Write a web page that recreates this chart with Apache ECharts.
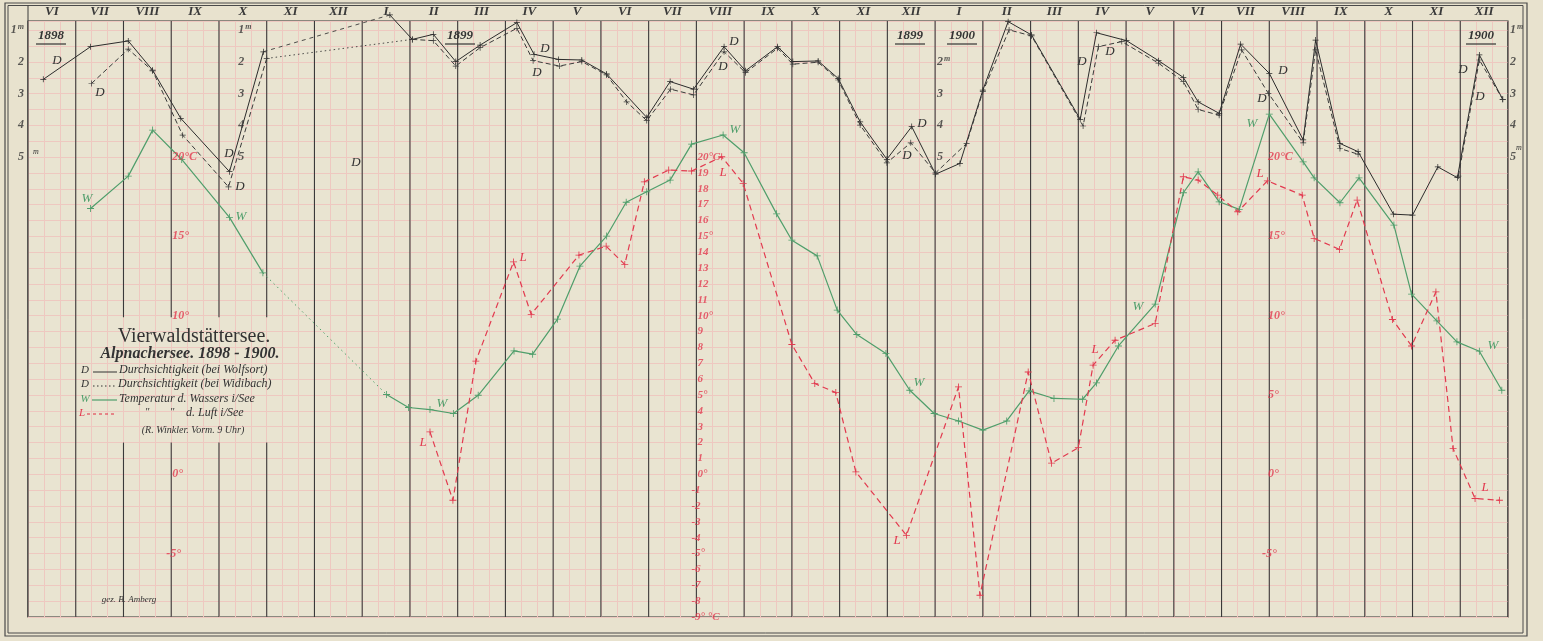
<!DOCTYPE html>
<html><head><meta charset="utf-8">
<script src="https://cdn.jsdelivr.net/npm/echarts@6/dist/echarts.min.js"></script>
<style>html,body{margin:0;padding:0;background:#e8e2ce;}#c{width:1543px;height:641px;}</style>
</head><body><div id="c"></div>
<script>
// ---------- DATA (x = months since 1 June 1898) ----------
const monthLabels = ['VI','VII','VIII','IX','X','XI','XII','I','II','III','IV','V','VI','VII','VIII','IX','X','XI','XII','I','II','III','IV','V','VI','VII','VIII','IX','X','XI','XII'];
// Durchsichtigkeit bei Wolfsort (m)
const dWolfsort1898 = [[0.32,2.55],[1.31,1.52],[2.10,1.34],[2.61,2.26],[3.20,3.78],[4.22,5.46],[4.93,1.68]];
const dWolfsort1899 = [[7.58,0.52],[8.05,1.29],[8.49,1.13],[8.96,1.99],[9.47,1.47],[10.24,0.76],[10.60,1.76],[11.11,1.92],[11.60,1.94],[12.12,2.38],[12.96,3.75],[13.45,2.62],[13.94,2.86],[14.58,1.52],[15.03,2.28],[15.70,1.52],[16.02,1.99],[16.55,1.97],[16.97,2.52],[17.43,3.89],[17.99,5.07],[18.51,4.04],[19.01,5.54],[19.52,5.20],[20.00,2.89],[20.53,0.73],[21.02,1.15],[22.04,3.81],[22.38,1.08],[23.01,1.33],[23.68,1.96],[24.20,2.49],[24.51,3.26],[24.95,3.62],[25.40,1.44],[26.00,2.36],[26.71,4.46],[26.97,1.31],[27.48,4.57],[27.86,4.83],[28.60,6.80],[29.00,6.83],[29.53,5.31],[29.94,5.65],[30.40,1.78],[30.89,3.18]];
// Durchsichtigkeit bei Widibach (m)
const dWidibach1898 = [[1.33,2.68],[2.10,1.60],[2.61,2.28],[3.24,4.31],[4.20,5.94],[5.00,1.89]];
const dWidibach1899 = [[8.05,1.29],[8.49,1.33],[8.96,2.13],[9.47,1.55],[10.24,0.94],[10.58,1.96],[11.13,2.13],[11.60,1.99],[12.12,2.41],[12.54,3.26],[12.96,3.85],[13.46,2.86],[13.94,3.04],[14.58,1.68],[15.03,2.34],[15.70,1.57],[16.02,2.07],[16.55,2.01],[16.97,2.57],[17.43,3.99],[17.99,5.18],[18.49,4.55],[19.01,5.50],[19.66,4.57],[20.00,2.94],[20.55,0.99],[21.02,1.18],[22.10,4.02],[22.42,1.52],[22.91,1.36],[23.68,2.04],[24.20,2.62],[24.51,3.50],[24.95,3.68],[25.42,1.62],[25.98,2.99],[26.71,4.55],[26.97,1.62],[27.48,4.73],[27.86,4.91]];
const dWidibach1900 = [[29.96,5.60],[30.40,1.94],[30.89,3.18]];
// Temperatur des Wassers (°C)
const wasser1898 = [[1.31,16.76],[2.10,18.80],[2.61,21.70],[3.22,19.85],[4.22,16.20],[4.92,12.70]];
const wasser1899 = [[7.51,5.03],[7.97,4.21],[8.42,4.08],[8.91,3.83],[9.43,4.98],[10.18,7.78],[10.57,7.57],[11.09,9.78],[11.56,13.12],[12.12,15.02],[12.53,17.15],[12.96,17.81],[13.45,18.55],[13.90,20.82],[14.56,21.39],[15.00,20.27],[15.68,16.42],[16.00,14.76],[16.53,13.77],[16.95,10.35],[17.36,8.81],[17.97,7.62],[18.47,5.30],[18.98,3.83],[19.49,3.36],[20.00,2.78],[20.50,3.36],[20.97,5.26],[21.49,4.78],[22.09,4.73],[22.38,5.76],[22.84,8.09],[23.61,10.73],[24.20,17.75],[24.51,19.07],[24.95,17.18],[25.37,16.70],[26.00,22.71],[26.71,19.70],[26.94,18.69],[27.48,17.12],[27.88,18.69],[28.61,15.71],[28.98,11.36],[29.51,9.67],[29.93,8.35],[30.40,7.76],[30.87,5.30]];
// Temperatur der Luft (°C)
const luft = [[8.42,2.67],[8.90,-1.64],[9.38,7.13],[10.17,13.39],[10.54,10.08],[11.54,13.82],[12.11,14.38],[12.50,13.23],[12.91,18.44],[13.42,19.18],[13.90,19.12],[14.53,20.02],[14.98,18.34],[16.00,8.18],[16.48,5.72],[16.92,5.15],[17.34,0.15],[18.40,-3.85],[19.49,5.51],[19.94,-7.63],[20.95,6.45],[21.44,0.70],[22.00,1.68],[22.31,6.88],[22.77,8.45],[23.61,9.51],[24.20,18.76],[24.51,18.55],[24.92,17.60],[25.34,16.55],[25.96,18.50],[26.69,17.60],[26.94,14.87],[27.47,14.18],[27.84,17.29],[28.58,9.76],[28.98,8.09],[29.49,11.50],[29.85,1.62],[30.31,-1.53],[30.82,-1.64]];
// scale tick values
const depthTicks = [1,2,3,4,5];
const depthTicksMid = [2,3,4,5];
const tempTicksLeft = [20,15,10,0,-5];
const tempTicksMid = [20,19,18,17,16,15,14,13,12,11,10,9,8,7,6,5,4,3,2,1,0,-1,-2,-3,-4,-5,-6,-7,-8,-9];
const tempTicksRight = [20,15,10,5,0,-5];

// ---------- STYLE / LAYOUT ----------
const T_MIN = -9, T_MAX = 28.58;
const D_MIN = (30 - T_MAX) / 2, D_MAX = (30 - T_MIN) / 2; // 2 °C per metre on paper
const FF = '"Liberation Serif", "DejaVu Serif", serif';
const PAPER = '#e8e2ce', PINK = '#eec8c0', INK = '#333333', GREEN = '#4f9e6b', RED = '#e23a4f';
const PLUS = 'path://M4.4,0H5.6V4.4H10V5.6H5.6V10H4.4V5.6H0V4.4H4.4Z';

const chart = echarts.init(document.getElementById('c'), null, {renderer: 'canvas'});

function line(data, yIdx, color, type, width, symSize) {
  return {type: 'line', data, xAxisIndex: 0, yAxisIndex: yIdx, clip: false, animation: false, silent: true,
    symbol: symSize ? PLUS : 'none', symbolSize: symSize || 0, showSymbol: !!symSize,
    lineStyle: {color, type, width}, itemStyle: {color}, z: 5};
}
function gap(a, b) { return [a[a.length - 1], b[0]]; }

function scale(xPos, values, texts, yIdx, color, position, fontSize, negOffset) {
  return {type: 'scatter', xAxisIndex: 0, yAxisIndex: yIdx, clip: false, silent: true, animation: false,
    symbolSize: 0.1, itemStyle: {color: 'transparent'}, z: 7,
    data: values.map((v, i) => ({value: [xPos, v], label: {formatter: texts[i], offset: (v < 0 && negOffset) ? [negOffset, 0] : [0, 0]}})),
    label: {show: true, position, distance: 1, color, fontFamily: FF, fontStyle: 'italic', fontWeight: 'bold', fontSize,
      rich: {s: {fontSize: 8, verticalAlign: 'top', color, fontFamily: FF, fontStyle: 'italic', padding: [0, 0, 6, 1]}}}};
}

const monthBoundaries = Array.from({length: 32}, (_, i) => [i, 0]);
const legendGapCols = [2, 3, 4, 5];
const monthLines = {
  type: 'custom', xAxisIndex: 0, yAxisIndex: 0, silent: true, animation: false, z: 2, clip: false,
  data: monthBoundaries,
  renderItem: function (params, api) {
    const x = api.value(0);
    const top = api.coord([x, T_MAX]), bot = api.coord([x, T_MIN]);
    const st = {stroke: '#3a3a3a', lineWidth: 1.1};
    if (legendGapCols.indexOf(x) >= 0) {
      const g1 = api.coord([x, 9.9]), g2 = api.coord([x, 2.0]);
      return {type: 'group', children: [
        {type: 'line', shape: {x1: top[0], y1: top[1], x2: g1[0], y2: g1[1]}, style: st},
        {type: 'line', shape: {x1: g2[0], y1: g2[1], x2: bot[0], y2: bot[1]}, style: st}]};
    }
    return {type: 'line', shape: {x1: top[0], y1: top[1], x2: bot[0], y2: bot[1]}, style: st};
  }
};

const depthTxt = v => v === 1 ? '1{s|m}' : String(v);
const depthTxtMid2 = v => v === 2 ? '2{s|m}' : String(v);
const tempTxt = v => v === 20 ? '20°C' : (v % 5 === 0 ? v + '°' : String(v));
const tempTxtMid = v => v === 20 ? '20°C' : (v === -9 ? '-9° °C' : (v % 5 === 0 ? v + '°' : String(v)));

// ---------- GRAPHIC DECORATION ----------
function txt(x, y, text, size, color, opts) {
  return {type: 'text', x, y, silent: true, z: 20,
    style: {text, fill: color, font: (opts && opts.upright ? '' : 'italic ') + (opts && opts.bold ? 'bold ' : '') + size + 'px ' + FF,
      textAlign: (opts && opts.align) || 'center', textVerticalAlign: 'middle'}};
}
function ln(x1, y1, x2, y2, color, dash, w) {
  return {type: 'line', silent: true, z: 20, shape: {x1, y1, x2, y2}, style: {stroke: color, lineWidth: w || 1, lineDash: dash || null}};
}
const letters = [];
[[57,61],[100,93],[229,154],[240,187],[356,163],[545,49],[537,73],[734,42],[723,67],[922,124],[907,156],[1082,62],[1110,52],[1283,71],[1262,99],[1463,70],[1480,97]]
  .forEach(p => letters.push(txt(p[0], p[1], 'D', 13, INK)));
[[87,199],[241,217],[735,130],[442,404],[919,383],[1138,307],[1252,124],[1493,346]]
  .forEach(p => letters.push(txt(p[0], p[1], 'W', 13, GREEN)));
[[523,258],[423,443],[723,173],[897,541],[1095,350],[1260,174],[1485,488]]
  .forEach(p => letters.push(txt(p[0], p[1], 'L', 13, RED)));

const years = [[51,'1898'],[460,'1899'],[910,'1899'],[962,'1900'],[1481,'1900']];
const yearEls = [];
years.forEach(y => { yearEls.push(txt(y[0], 36, y[1], 13, INK, {bold: true})); yearEls.push(ln(y[0] - 15, 44, y[0] + 15, 44, INK, null, 1.2)); });

const graphics = [
  {type: 'rect', silent: true, z: -1, shape: {x: 5, y: 3, width: 1522, height: 633}, style: {fill: 'none', stroke: '#4a4a4a', lineWidth: 1.2}},
  {type: 'rect', silent: true, z: -1, shape: {x: 8, y: 5.5, width: 1515, height: 627.5}, style: {fill: 'none', stroke: '#4a4a4a', lineWidth: 1}},
  ln(28, 5.5, 28, 21, '#3a3a3a'),
  // legend block
  txt(194, 337, 'Vierwaldstättersee.', 20, INK, {upright: true}),
  txt(190, 354, 'Alpnachersee. 1898 - 1900.', 16, INK, {bold: true}),
  txt(85, 370, 'D', 11, INK), ln(93, 372, 117, 372, INK), txt(119, 370, 'Durchsichtigkeit (bei Wolfsort)', 12, INK, {align: 'left'}),
  txt(85, 384, 'D', 11, INK), ln(93, 386, 116, 386, INK, [1.5, 2.5]), txt(118, 384, 'Durchsichtigkeit (bei Widibach)', 12, INK, {align: 'left'}),
  txt(85, 399, 'W', 11, GREEN), ln(92, 400, 117, 400, GREEN, null, 1.2), txt(119, 399, 'Temperatur d. Wassers i/See', 12, INK, {align: 'left'}),
  txt(82, 413, 'L', 11, RED), ln(87, 414, 117, 414, RED, [3, 3], 1.1), txt(147, 412, '"', 11, INK), txt(172, 412, '"', 11, INK),
  txt(186, 413, 'd. Luft i/See', 12, INK, {align: 'left'}),
  txt(193, 430, '(R. Winkler. Vorm. 9 Uhr)', 10, INK),
  txt(129, 600, 'gez. B. Amberg', 9, INK),
  txt(36, 152, 'm', 8, INK), txt(1519, 148, 'm', 8, INK)
].concat(letters, yearEls);

const option = {
  backgroundColor: PAPER,
  animation: false,
  grid: {left: 28, right: 35, top: 21, bottom: 24, show: true, borderColor: '#2e2e2e', borderWidth: 1.2, backgroundColor: '#e9e4d1'},
  xAxis: [
    {type: 'value', min: 0, max: 31, interval: 1, axisLine: {show: false}, axisTick: {show: false}, axisLabel: {show: false},
      splitLine: {show: true, lineStyle: {color: PINK, width: 1}}, minorTick: {show: false, splitNumber: 3},
      minorSplitLine: {show: true, lineStyle: {color: PINK, width: 1}}},
    {type: 'category', position: 'top', data: monthLabels, boundaryGap: true, axisLine: {show: false}, axisTick: {show: false},
      splitLine: {show: false}, axisLabel: {interval: 0, margin: 3, color: '#3a3a3a', fontFamily: FF, fontStyle: 'italic', fontWeight: 'bold', fontSize: 13}}
  ],
  yAxis: [
    {type: 'value', min: T_MIN, max: T_MAX, interval: 1, axisLine: {show: false}, axisTick: {show: false}, axisLabel: {show: false},
      splitLine: {show: true, lineStyle: {color: PINK, width: 1}}},
    {type: 'value', inverse: true, min: D_MIN, max: D_MAX, show: false, splitLine: {show: false}}
  ],
  graphic: graphics,
  series: [
    monthLines,
    // gap connectors (no observations)
    line(gap(dWolfsort1898, dWolfsort1899), 1, '#3a3a3a', [4, 4], 0.9, 0),
    line(gap(dWidibach1898, dWidibach1899), 1, '#3a3a3a', [1.5, 3], 0.9, 0),
    line(gap(wasser1898, wasser1899), 0, GREEN, [1.5, 3.5], 1, 0),
    // main series
    line(dWolfsort1898, 1, '#2c2c2c', 'solid', 1, 6),
    line(dWolfsort1899, 1, '#2c2c2c', 'solid', 1, 6),
    line(dWidibach1898, 1, '#3a3a3a', [5, 3], 1, 6),
    line(dWidibach1899, 1, '#3a3a3a', [5, 3], 1, 6),
    line(dWidibach1900, 1, '#3a3a3a', [5, 3], 1, 6),
    line(wasser1898, 0, GREEN, 'solid', 1.2, 7),
    line(wasser1899, 0, GREEN, 'solid', 1.2, 7),
    line(luft, 0, RED, [6, 4], 1.2, 7),
    // scales
    scale(-0.06, depthTicks, depthTicks.map(depthTxt), 1, INK, 'left', 12),
    scale(4.38, depthTicks, depthTicks.map(depthTxt), 1, INK, 'right', 12),
    scale(19.02, depthTicksMid, depthTicksMid.map(depthTxtMid2), 1, INK, 'right', 12),
    scale(31.02, depthTicks, depthTicks.map(depthTxt), 1, INK, 'right', 12),
    scale(3.0, tempTicksLeft, tempTicksLeft.map(tempTxt), 0, RED, 'right', 12, -6),
    scale(14.0, tempTicksMid, tempTicksMid.map(tempTxtMid), 0, RED, 'right', 11, -6),
    scale(25.95, tempTicksRight, tempTicksRight.map(tempTxt), 0, RED, 'right', 12, -6)
  ]
};
chart.setOption(option);
</script></body></html>
